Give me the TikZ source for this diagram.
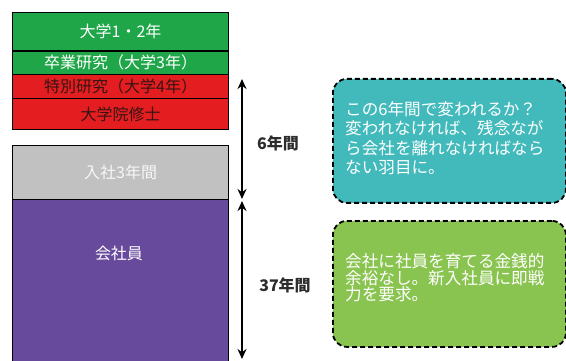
\documentclass[tikz,border=0pt]{standalone}
\usepackage{fontspec}
\setmainfont{Noto Sans CJK JP}
\usetikzlibrary{arrows.meta}
\definecolor{grn}{RGB}{30,166,72}
\definecolor{rd}{RGB}{228,30,32}
\definecolor{gry}{RGB}{194,193,193}
\definecolor{prp}{RGB}{104,74,156}
\definecolor{tealc}{RGB}{66,186,188}
\definecolor{lgrn}{RGB}{138,196,80}
\definecolor{dtxt}{RGB}{55,20,20}
\definecolor{lbl}{RGB}{45,45,45}
\begin{document}
\begin{tikzpicture}[x=1pt,y=-1pt,
  row/.style={draw=black, line width=1.2pt, minimum width=216pt, inner sep=0pt, anchor=north west, font=\fontsize{16}{16}\selectfont},
  callout/.style={draw=black, line width=1.8pt, dash pattern=on 5pt off 3pt, rounded corners=14pt, minimum width=233pt, anchor=north west, inner sep=0pt},
  ctext/.style={anchor=north west, align=left, inner sep=0pt, text=white, font=\fontsize{16.6}{19.5}\selectfont},
  arr/.style={line width=2.2pt, {Stealth[length=10pt,width=9pt]}-{Stealth[length=10pt,width=9pt]}},
  lab/.style={text=lbl, font=\fontsize{16}{16}\selectfont\bfseries}]
\clip (0,0) rectangle (566,361);
\fill[white] (0,0) rectangle (566,361);
% top stack
\node[row, fill=grn, minimum height=38.5pt, text=white] (r1) at (12,12) {大学1・2年};
\node[row, fill=grn, minimum height=23.5pt, text=white] (r2) at (12,50.5) {卒業研究（大学3年）};
\node[row, fill=rd, minimum height=24pt, text=dtxt] (r3) at (12,74) {特別研究（大学4年）};
\node[row, fill=rd, minimum height=31pt, text=dtxt] (r4) at (12,98) {大学院修士};
% bottom stack
\node[row, fill=gry, minimum height=54pt, text=white!94!gray] (r5) at (12,145) {入社3年間};
\node[row, fill=prp, minimum height=180pt] (r6) at (12,199) {};
\node[text=white, font=\fontsize{16}{16}\selectfont, inner sep=0pt] (t6) at (119,253) {会社員};
% arrows
\coordinate (a1) at (242,79);
\coordinate (a2) at (242,199);
\coordinate (b1) at (242,201);
\coordinate (b2) at (242,359);
\draw[arr] (a1) -- (a2);
\draw[arr] (b1) -- (b2);
\node[lab] (l1) at (278,143) {6年間};
\node[lab] (l2) at (285,285) {37年間};
% callouts
\node[callout, fill=tealc, minimum height=124pt] (c1) at (332,78) {};
\node[ctext] (ct1) at (345,101) {この6年間で変われるか？\\変われなければ、残念なが\\ら会社を離れなければなら\\ない羽目に。};
\node[callout, fill=lgrn, minimum height=126pt] (c2) at (332,220) {};
\node[ctext, font=\fontsize{16.6}{16.8}\selectfont] (ct2) at (345,253) {会社に社員を育てる金銭的\\余裕なし。新入社員に即戦\\力を要求。};
\end{tikzpicture}
\end{document}
